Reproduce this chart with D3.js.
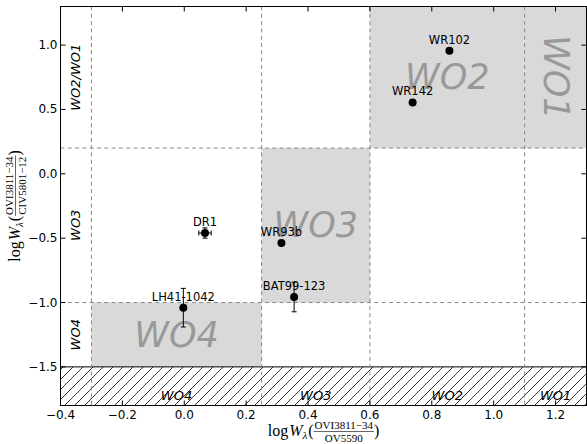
<!DOCTYPE html>
<html><head><meta charset="utf-8">
<script src="https://cdn.jsdelivr.net/npm/d3@7"></script>
<style>body{margin:0;background:#fff}svg{display:block}</style>
</head><body>
<script>
// ---- data ----
const stars = ["WR102","WR142","DR1","WR93b","BAT99-123","LH41-1042"];
const xVals = [0.857, 0.738, 0.067, 0.314, 0.355, -0.003];
const yVals = [0.956, 0.555, -0.46, -0.538, -0.957, -1.04];
const xErr  = [0, 0, 0.02, 0, 0, 0];
const yErr  = [0, 0, 0.04, 0, 0.115, 0.15];

const classNames = ["WO4","WO3","WO2","WO1"];
const classX0 = [-0.3, 0.25, 0.6, 1.1];
const classX1 = [0.25, 0.6, 1.1, 1.3];
const classY0 = [-1.5, -1.0, 0.2, 0.2];
const classY1 = [-1.0, 0.2, 1.3, 1.3];

const bandNames = ["WO4","WO3","WO2/WO1"];
const bandY0 = [-1.5, -1.0, 0.2];
const bandY1 = [-1.0, 0.2, 1.3];

const xDividers = [-0.3, 0.25, 0.6, 1.1];
const yDividers = [-1.0, 0.2];
const hatchLimit = -1.5;

const xTicks = [-0.4,-0.2,0.0,0.2,0.4,0.6,0.8,1.0,1.2];
const yTicks = [-1.5,-1.0,-0.5,0.0,0.5,1.0];
const xDomain = [-0.4, 1.3];
const yDomain = [-1.8, 1.3];

// ---- layout ----
const W = 587, H = 444;
const L = 60.5, R = 586.5, T = 6.5, B = 405.5;
const x = d3.scaleLinear().domain(xDomain).range([L, R]);
const y = d3.scaleLinear().domain(yDomain).range([B, T]);
const fmt = d3.format(".1f");

const svg = d3.select("body").append("svg").attr("width", W).attr("height", H);
const defs = svg.append("defs");
const pat = defs.append("pattern").attr("id","hatch").attr("patternUnits","userSpaceOnUse")
  .attr("width",10).attr("height",10);
pat.append("path").attr("d","M-1,1 l2,-2 M0,10 l10,-10 M9,11 l2,-2")
  .attr("stroke","#000").attr("stroke-width",0.8);
defs.append("clipPath").attr("id","clip").append("rect")
  .attr("x",L).attr("y",T).attr("width",R-L).attr("height",B-T);

const plot = svg.append("g").attr("clip-path","url(#clip)");

// gray class boxes
plot.selectAll("rect.box").data(classNames).join("rect").attr("class","box")
  .attr("x",(d,i)=>x(classX0[i])).attr("width",(d,i)=>x(classX1[i])-x(classX0[i]))
  .attr("y",(d,i)=>y(classY1[i])).attr("height",(d,i)=>y(classY0[i])-y(classY1[i]))
  .attr("fill","#d9d9d9");

// hatched region
plot.append("rect").attr("x",x(xDomain[0])).attr("width",x(xDomain[1])-x(xDomain[0]))
  .attr("y",y(hatchLimit)).attr("height",y(yDomain[0])-y(hatchLimit))
  .attr("fill","url(#hatch)");
plot.append("line").attr("x1",x(xDomain[0])).attr("x2",x(xDomain[1]))
  .attr("y1",y(hatchLimit)).attr("y2",y(hatchLimit)).attr("stroke","#000").attr("stroke-width",1);

// big class labels
plot.selectAll("text.big").data(classNames).join("text").attr("class","big")
  .attr("transform",(d,i)=>{
    const cx = x((classX0[i]+classX1[i])/2), cy = y((classY0[i]+classY1[i])/2);
    return `translate(${cx},${cy})` + (d==="WO1" ? " rotate(90)" : "");
  })
  .attr("text-anchor","middle").attr("dominant-baseline","central")
  .style("font","italic 35px 'DejaVu Sans'").attr("fill","#999").text(d=>d);

// dashed dividers
plot.selectAll("line.vd").data(xDividers).join("line").attr("class","vd")
  .attr("x1",d=>x(d)).attr("x2",d=>x(d)).attr("y1",T).attr("y2",B)
  .attr("stroke","#888").attr("stroke-width",1).attr("stroke-dasharray","4,3.3");
plot.selectAll("line.hd").data(yDividers).join("line").attr("class","hd")
  .attr("y1",d=>y(d)).attr("y2",d=>y(d)).attr("x1",L).attr("x2",R)
  .attr("stroke","#888").attr("stroke-width",1).attr("stroke-dasharray","4,3.3");

// bottom class labels in hatched region
plot.selectAll("text.bot").data(classNames).join("text").attr("class","bot")
  .attr("x",(d,i)=>x((classX0[i]+classX1[i])/2)).attr("y",B-5.5)
  .attr("text-anchor","middle").style("font","italic 13px 'DejaVu Sans'").text(d=>d);

// side band labels
plot.selectAll("text.side").data(bandNames).join("text").attr("class","side")
  .attr("transform",(d,i)=>`translate(${x((xDomain[0]+xDividers[0])/2)},${y((bandY0[i]+bandY1[i])/2)}) rotate(-90)`)
  .attr("text-anchor","middle").attr("dominant-baseline","central")
  .style("font","italic 13px 'DejaVu Sans'").text(d=>d);

// error bars
const eb = plot.append("g").attr("stroke","#000").attr("stroke-width",1);
stars.forEach((s,i)=>{
  if (yErr[i]>0){
    eb.append("line").attr("x1",x(xVals[i])).attr("x2",x(xVals[i]))
      .attr("y1",y(yVals[i]-yErr[i])).attr("y2",y(yVals[i]+yErr[i]));
    [yVals[i]-yErr[i], yVals[i]+yErr[i]].forEach(v=>eb.append("line")
      .attr("x1",x(xVals[i])-2.5).attr("x2",x(xVals[i])+2.5).attr("y1",y(v)).attr("y2",y(v)));
  }
  if (xErr[i]>0){
    eb.append("line").attr("y1",y(yVals[i])).attr("y2",y(yVals[i]))
      .attr("x1",x(xVals[i]-xErr[i])).attr("x2",x(xVals[i]+xErr[i]));
    [xVals[i]-xErr[i], xVals[i]+xErr[i]].forEach(v=>eb.append("line")
      .attr("y1",y(yVals[i])-2.5).attr("y2",y(yVals[i])+2.5).attr("x1",x(v)).attr("x2",x(v)));
  }
});

// points
plot.selectAll("circle.pt").data(stars).join("circle").attr("class","pt")
  .attr("cx",(d,i)=>x(xVals[i])).attr("cy",(d,i)=>y(yVals[i])).attr("r",4).attr("fill","#000");
plot.selectAll("text.lab").data(stars).join("text").attr("class","lab")
  .attr("x",(d,i)=>x(xVals[i])).attr("y",(d,i)=>y(yVals[i])-7)
  .attr("text-anchor","middle").style("font","11.5px 'DejaVu Sans'").text(d=>d);

// axes: ticks inward on all four sides
const tickLen = 5;
const axG = svg.append("g").attr("stroke","#000").attr("stroke-width",1);
xTicks.forEach(v=>{
  axG.append("line").attr("x1",x(v)).attr("x2",x(v)).attr("y1",B).attr("y2",B-tickLen);
  axG.append("line").attr("x1",x(v)).attr("x2",x(v)).attr("y1",T).attr("y2",T+tickLen);
});
yTicks.forEach(v=>{
  axG.append("line").attr("y1",y(v)).attr("y2",y(v)).attr("x1",L).attr("x2",L+tickLen);
  axG.append("line").attr("y1",y(v)).attr("y2",y(v)).attr("x1",R).attr("x2",R-tickLen);
});
svg.append("rect").attr("x",L).attr("y",T).attr("width",R-L).attr("height",B-T)
  .attr("fill","none").attr("stroke","#000").attr("stroke-width",1);

svg.selectAll("text.xt").data(xTicks).join("text").attr("class","xt")
  .attr("x",d=>x(d)).attr("y",B+13).attr("text-anchor","middle")
  .style("font","12px 'DejaVu Sans'").text(d=>fmt(d));
svg.selectAll("text.yt").data(yTicks).join("text").attr("class","yt")
  .attr("x",L-3).attr("y",d=>y(d)).attr("text-anchor","end").attr("dominant-baseline","central")
  .style("font","12px 'DejaVu Sans'").text(d=>fmt(d));

// math-style axis labels
function mathLabel(g, num, den){
  const S = 16, s = 11, serif = "'Liberation Serif', 'DejaVu Serif', serif";
  let cx = 0;
  const add = (txt, size, italic, dy) => {
    const t = g.append("text").attr("x",cx).attr("y",dy)
      .style("font",`${italic?"italic ":""}${size}px ${serif}`).text(txt);
    cx += t.node().getComputedTextLength();
    return t;
  };
  add("log", S, false, 0); cx += 1;
  add("W", S, true, 0);
  add("λ", s, true, 3); cx += 1;
  add("(", S, false, 0);
  const n = g.append("text").attr("y",-7).attr("text-anchor","middle").style("font",`${s}px ${serif}`).text(num);
  const d = g.append("text").attr("y",6).attr("text-anchor","middle").style("font",`${s}px ${serif}`).text(den);
  const fw = Math.max(n.node().getComputedTextLength(), d.node().getComputedTextLength()) + 2;
  n.attr("x", cx + fw/2); d.attr("x", cx + fw/2);
  g.append("line").attr("x1",cx).attr("x2",cx+fw).attr("y1",-4.5).attr("y2",-4.5)
    .attr("stroke","#000").attr("stroke-width",0.6);
  cx += fw;
  add(")", S, false, 0);
  return cx;
}
const xl = svg.append("g");
const xlInner = xl.append("g");
const xw = mathLabel(xlInner, "OVI3811−34", "OV5590");
xlInner.attr("transform",`translate(${-xw/2},0)`);
xl.attr("transform",`translate(${(L+R)/2},436)`);

const yl = svg.append("g");
const ylInner = yl.append("g");
const yw = mathLabel(ylInner, "OVI3811−34", "CIV5801−12");
ylInner.attr("transform",`translate(${-yw/2},0)`);
yl.attr("transform",`translate(20,${(T+B)/2}) rotate(-90)`);
</script>
</body></html>
